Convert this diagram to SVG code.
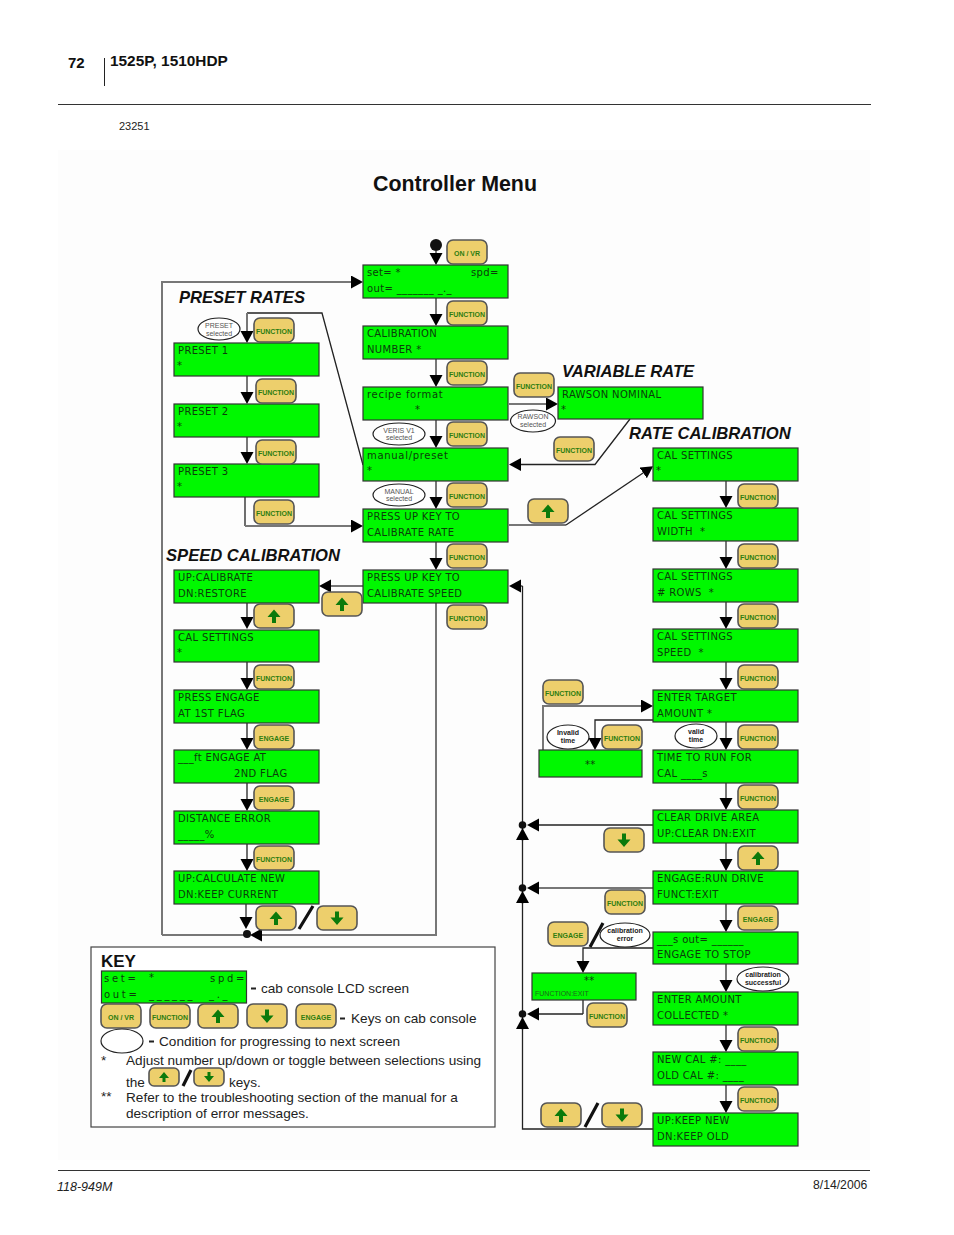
<svg xmlns="http://www.w3.org/2000/svg" width="954" height="1235" viewBox="0 0 954 1235">
<style>
text{font-family:"Liberation Sans",Arial,sans-serif}
.scr{fill:#00f800;stroke:#333;stroke-width:1.2}
.l{font-family:"DejaVu Sans",sans-serif;font-size:10px;letter-spacing:.35px;fill:#0b3d0b}
.lc{letter-spacing:.7px}
.w{letter-spacing:2.7px}
.kr{fill:#edcf6c;stroke:#555;stroke-width:1.6}
.kt{font-size:7px;font-weight:bold;fill:#2e7d10;text-anchor:middle}
.ar{fill:#0b7a0b}
.el{fill:#fff;stroke:#222;stroke-width:1.2}
.et{font-size:7px;fill:#555;text-anchor:middle}
.ed{font-size:7px;font-weight:bold;fill:#222;text-anchor:middle}
.g{fill:none;stroke:#777;stroke-width:2;marker-end:url(#ah)}
.n{fill:none;stroke:#777;stroke-width:2}
.b{fill:none;stroke:#222;stroke-width:1.3;marker-end:url(#ah)}
.bn{fill:none;stroke:#222;stroke-width:1.3}
.h{font-size:16.6px;font-weight:bold;font-style:italic;fill:#111}
.t{font-size:13.6px;fill:#222}
.sl{stroke:#111;stroke-width:3.2;fill:none}
.dot{fill:#111}
</style>
<defs>
<marker id="ah" markerUnits="userSpaceOnUse" markerWidth="14" markerHeight="14" refX="7" refY="6.5" orient="auto"><path d="M0,0L12,6.5L0,13z" fill="#000"/></marker>
<rect id="key" class="kr" width="40" height="24" rx="6"/>
<g id="kup"><use href="#key"/><path class="ar" d="M20,5.5L26.5,13H22V19H18V13H13.5z"/></g>
<g id="kdn"><use href="#key"/><path class="ar" d="M20,19L26.5,11.5H22V5.500H18V11.500H13.500z"/></g>
<g id="smup"><rect class="kr" width="30" height="18" rx="5"/><path class="ar" d="M15,4L20,10H16.500V14H13.500V10H10z"/></g>
<g id="smdn"><rect class="kr" width="30" height="18" rx="5"/><path class="ar" d="M15,14L20,8H16.500V4H13.500V8H10z"/></g>
</defs>
<rect x="58" y="150" width="812" height="1010" fill="#fdfdfd"/>
<g id="page">
<text x="68" y="68" font-size="15" font-weight="bold" fill="#111">72</text>
<path d="M104.500 58V86" stroke="#222" fill="none"/>
<text x="110" y="66" font-size="15.400" font-weight="bold" fill="#111">1525P, 1510HDP</text>
<path d="M58 104.500H871" stroke="#333" fill="none"/>
<text x="119" y="130" font-size="11" fill="#222">23251</text>
<text x="373" y="191" font-size="21.400" font-weight="bold" fill="#111">Controller Menu</text>
<path d="M58 1170.500H870" stroke="#333" fill="none"/>
<text x="57" y="1191" font-size="12.500" font-style="italic" fill="#222">118-949M</text>
<text x="813" y="1189" font-size="12.200" fill="#222">8/14/2006</text>
<text class="h" x="179" y="303">PRESET RATES</text>
<text class="h" x="562" y="377">VARIABLE RATE</text>
<text class="h" x="629" y="439">RATE CALIBRATION</text>
<text class="h" x="166" y="561">SPEED CALIBRATION</text>
</g>
<g id="connectors">
<circle class="dot" cx="436" cy="245" r="6"/>
<path class="g" d="M436 251V260"/>
<path class="g" d="M162 935V282H358"/>
<path class="g" d="M436 298V321"/><path class="g" d="M436 359V382"/><path class="g" d="M436 420V443"/><path class="g" d="M436 481V504"/><path class="g" d="M436 542V565"/>
<path class="bn" d="M363 465L322 313H247"/>
<path class="g" d="M247 313V338"/>
<path class="g" d="M247 376V399"/><path class="g" d="M247 437V459"/>
<path class="bn" d="M245 497V526"/><path class="g" d="M245 526H358"/>
<path class="g" d="M509 404H553"/>
<path class="b" d="M630 419L595 464.500H514"/>
<path class="n" d="M509 525H566"/>
<path class="b" d="M566 525L649 469"/>
<path class="g" d="M363 586H324"/>
<path class="b" d="M247 603V624"/><path class="b" d="M247 662V685"/><path class="b" d="M247 723V745"/><path class="b" d="M247 783V806"/><path class="b" d="M247 844V866"/>
<path class="g" d="M246 904V924"/>
<path class="n" d="M162 935H247"/>
<path class="g" d="M436 603V935H255"/>
<circle class="dot" cx="247" cy="934" r="4"/>
<path class="g" d="M726 481V503"/><path class="g" d="M726 541V564"/><path class="g" d="M726 602V624"/><path class="g" d="M726 662V685"/><path class="g" d="M726 722V745"/><path class="g" d="M726 783V805"/><path class="g" d="M726 843V866"/><path class="g" d="M726 904V927"/><path class="g" d="M726 964V987"/><path class="g" d="M726 1025V1047"/><path class="g" d="M726 1085V1108"/>
<path class="g" d="M543 750V706H648"/>
<path class="b" d="M653 720H595V745"/>
<path class="bn" d="M653 1129H522.500V586"/>
<path class="b" d="M522.500 586H514"/>
<circle class="dot" cx="522.500" cy="825" r="3.800"/><circle class="dot" cx="522.500" cy="888" r="3.800"/><circle class="dot" cx="522.500" cy="1014" r="3.800"/>
<path class="b" d="M522.500 841V833"/><path class="b" d="M522.500 904V896"/><path class="b" d="M522.500 1030V1022"/>
<path class="b" d="M653 825H532"/>
<path class="g" d="M653 888H532"/>
<path class="bn" d="M583 1000V1014"/><path class="b" d="M583 1014H532"/>
<path class="b" d="M653 948H583V968"/>
<path class="sl" d="M299 929L313 906M585 1127L598 1103M590 947L603 923"/>
</g>
<g id="s1" transform="translate(363,265)"><rect class="scr" width="145" height="33"/><text class="l" x="4" y="11">set= *</text><text class="l" x="108" y="11">spd=</text><text class="l" x="4" y="27">out= _______ _._</text></g>
<g id="s2" transform="translate(363,326)"><rect class="scr" width="145" height="33"/><text class="l" x="4" y="11">CALIBRATION</text><text class="l" x="4" y="27">NUMBER *</text></g>
<g id="s3" transform="translate(363,387)"><rect class="scr" width="145" height="33"/><text class="l lc" x="4" y="11">recipe format</text><text class="l" x="52" y="26">*</text></g>
<g id="s4" transform="translate(363,448)"><rect class="scr" width="145" height="33"/><text class="l lc" x="4" y="11">manual/preset</text><text class="l" x="4" y="26">*</text></g>
<g id="s5" transform="translate(363,509)"><rect class="scr" width="145" height="33"/><text class="l" x="4" y="11">PRESS UP KEY TO</text><text class="l" x="4" y="27">CALIBRATE RATE</text></g>
<g id="s6" transform="translate(363,570)"><rect class="scr" width="145" height="33"/><text class="l" x="4" y="11">PRESS UP KEY TO</text><text class="l" x="4" y="27">CALIBRATE SPEED</text></g>
<g id="p1" transform="translate(174,343)"><rect class="scr" width="145" height="33"/><text class="l" x="4" y="11">PRESET 1</text><text class="l" x="3" y="26">*</text></g>
<g id="p2" transform="translate(174,404)"><rect class="scr" width="145" height="33"/><text class="l" x="4" y="11">PRESET 2</text><text class="l" x="3" y="26">*</text></g>
<g id="p3" transform="translate(174,464)"><rect class="scr" width="145" height="33"/><text class="l" x="4" y="11">PRESET 3</text><text class="l" x="3" y="26">*</text></g>
<g id="v1" transform="translate(558,387)"><rect class="scr" width="145" height="32"/><text class="l" x="4" y="11">RAWSON NOMINAL</text><text class="l" x="3" y="26">*</text></g>
<g id="c1" transform="translate(174,570)"><rect class="scr" width="145" height="33"/><text class="l" x="4" y="11">UP:CALIBRATE</text><text class="l" x="4" y="27">DN:RESTORE</text></g>
<g id="c2" transform="translate(174,630)"><rect class="scr" width="145" height="32"/><text class="l" x="4" y="11">CAL SETTINGS</text><text class="l" x="3" y="26">*</text></g>
<g id="c3" transform="translate(174,690)"><rect class="scr" width="145" height="33"/><text class="l" x="4" y="11">PRESS ENGAGE</text><text class="l" x="4" y="27">AT 1ST FLAG</text></g>
<g id="c4" transform="translate(174,750)"><rect class="scr" width="145" height="33"/><text class="l" x="4" y="11">___ft ENGAGE AT</text><text class="l" x="60" y="27">2ND FLAG</text></g>
<g id="c5" transform="translate(174,811)"><rect class="scr" width="145" height="33"/><text class="l" x="4" y="11">DISTANCE ERROR</text><text class="l" x="4" y="27">_____%</text></g>
<g id="c6" transform="translate(174,871)"><rect class="scr" width="145" height="33"/><text class="l" x="4" y="11">UP:CALCULATE NEW</text><text class="l" x="4" y="27">DN:KEEP CURRENT</text></g>
<g id="r1" transform="translate(653,448)"><rect class="scr" width="145" height="33"/><text class="l" x="4" y="11">CAL SETTINGS</text><text class="l" x="3" y="26">*</text></g>
<g id="r2" transform="translate(653,508)"><rect class="scr" width="145" height="33"/><text class="l" x="4" y="11">CAL SETTINGS</text><text class="l" x="4" y="27">WIDTH&#160; *</text></g>
<g id="r3" transform="translate(653,569)"><rect class="scr" width="145" height="33"/><text class="l" x="4" y="11">CAL SETTINGS</text><text class="l" x="4" y="27"># ROWS&#160; *</text></g>
<g id="r4" transform="translate(653,629)"><rect class="scr" width="145" height="33"/><text class="l" x="4" y="11">CAL SETTINGS</text><text class="l" x="4" y="27">SPEED&#160; *</text></g>
<g id="r5" transform="translate(653,690)"><rect class="scr" width="145" height="32"/><text class="l" x="4" y="11">ENTER TARGET</text><text class="l" x="4" y="27">AMOUNT *</text></g>
<g id="r6" transform="translate(653,750)"><rect class="scr" width="145" height="33"/><text class="l" x="4" y="11">TIME TO RUN FOR</text><text class="l" x="4" y="27">CAL ____s</text></g>
<g id="r7" transform="translate(653,810)"><rect class="scr" width="145" height="33"/><text class="l" x="4" y="11">CLEAR DRIVE AREA</text><text class="l" x="4" y="27">UP:CLEAR DN:EXIT</text></g>
<g id="r8" transform="translate(653,871)"><rect class="scr" width="145" height="33"/><text class="l" x="4" y="11">ENGAGE:RUN DRIVE</text><text class="l" x="4" y="27">FUNCT:EXIT</text></g>
<g id="r9" transform="translate(653,932)"><rect class="scr" width="145" height="32"/><text class="l" x="4" y="11">___s out= ______</text><text class="l" x="4" y="26">ENGAGE TO STOP</text></g>
<g id="r10" transform="translate(653,992)"><rect class="scr" width="145" height="33"/><text class="l" x="4" y="11">ENTER AMOUNT</text><text class="l" x="4" y="27">COLLECTED *</text></g>
<g id="r11" transform="translate(653,1052)"><rect class="scr" width="145" height="33"/><text class="l" x="4" y="11">NEW CAL #: ____</text><text class="l" x="4" y="27">OLD CAL #: ____</text></g>
<g id="r12" transform="translate(653,1113)"><rect class="scr" width="145" height="33"/><text class="l" x="4" y="11">UP:KEEP NEW</text><text class="l" x="4" y="27">DN:KEEP OLD</text></g>
<g id="e1" transform="translate(539,750)"><rect class="scr" width="103" height="27"/><text class="l" x="46" y="18">**</text></g>
<g id="e2" transform="translate(532,973)"><rect class="scr" width="104" height="27"/><text class="l" x="52" y="11">**</text><text x="3" y="23" font-size="7" fill="#1c6b1c">FUNCTION:EXIT</text></g>
<g id="k1" transform="translate(447,240)"><use href="#key"/><text class="kt" x="20" y="16">ON / VR</text></g>
<g id="k2" transform="translate(447,301)"><use href="#key"/><text class="kt" x="20" y="16">FUNCTION</text></g>
<g id="k3" transform="translate(447,361)"><use href="#key"/><text class="kt" x="20" y="16">FUNCTION</text></g>
<g id="k4" transform="translate(447,422)"><use href="#key"/><text class="kt" x="20" y="16">FUNCTION</text></g>
<g id="k5" transform="translate(447,483)"><use href="#key"/><text class="kt" x="20" y="16">FUNCTION</text></g>
<g id="k6" transform="translate(447,544)"><use href="#key"/><text class="kt" x="20" y="16">FUNCTION</text></g>
<g id="k7" transform="translate(447,605)"><use href="#key"/><text class="kt" x="20" y="16">FUNCTION</text></g>
<g id="k8" transform="translate(254,318)"><use href="#key"/><text class="kt" x="20" y="16">FUNCTION</text></g>
<g id="k9" transform="translate(256,379)"><use href="#key"/><text class="kt" x="20" y="16">FUNCTION</text></g>
<g id="k10" transform="translate(256,440)"><use href="#key"/><text class="kt" x="20" y="16">FUNCTION</text></g>
<g id="k11" transform="translate(254,500)"><use href="#key"/><text class="kt" x="20" y="16">FUNCTION</text></g>
<g id="k12" transform="translate(514,373)"><use href="#key"/><text class="kt" x="20" y="16">FUNCTION</text></g>
<g id="k13" transform="translate(554,437)"><use href="#key"/><text class="kt" x="20" y="16">FUNCTION</text></g>
<g id="k14" transform="translate(528,499)"><use href="#kup"/></g>
<g id="k15" transform="translate(322,592)"><use href="#kup"/></g>
<g id="k16" transform="translate(254,604)"><use href="#kup"/></g>
<g id="k17" transform="translate(254,665)"><use href="#key"/><text class="kt" x="20" y="16">FUNCTION</text></g>
<g id="k18" transform="translate(254,725)"><use href="#key"/><text class="kt" x="20" y="16">ENGAGE</text></g>
<g id="k19" transform="translate(254,786)"><use href="#key"/><text class="kt" x="20" y="16">ENGAGE</text></g>
<g id="k20" transform="translate(254,846)"><use href="#key"/><text class="kt" x="20" y="16">FUNCTION</text></g>
<g id="k21" transform="translate(256,906)"><use href="#kup"/></g>
<g id="k22" transform="translate(317,906)"><use href="#kdn"/></g>
<g id="k23" transform="translate(738,484)"><use href="#key"/><text class="kt" x="20" y="16">FUNCTION</text></g>
<g id="k24" transform="translate(738,544)"><use href="#key"/><text class="kt" x="20" y="16">FUNCTION</text></g>
<g id="k25" transform="translate(738,604)"><use href="#key"/><text class="kt" x="20" y="16">FUNCTION</text></g>
<g id="k26" transform="translate(738,665)"><use href="#key"/><text class="kt" x="20" y="16">FUNCTION</text></g>
<g id="k27" transform="translate(738,725)"><use href="#key"/><text class="kt" x="20" y="16">FUNCTION</text></g>
<g id="k28" transform="translate(738,785)"><use href="#key"/><text class="kt" x="20" y="16">FUNCTION</text></g>
<g id="k29" transform="translate(738,846)"><use href="#kup"/></g>
<g id="k30" transform="translate(738,906)"><use href="#key"/><text class="kt" x="20" y="16">ENGAGE</text></g>
<g id="k31" transform="translate(738,1027)"><use href="#key"/><text class="kt" x="20" y="16">FUNCTION</text></g>
<g id="k32" transform="translate(738,1087)"><use href="#key"/><text class="kt" x="20" y="16">FUNCTION</text></g>
<g id="k33" transform="translate(543,680)"><use href="#key"/><text class="kt" x="20" y="16">FUNCTION</text></g>
<g id="k34" transform="translate(602,725)"><use href="#key"/><text class="kt" x="20" y="16">FUNCTION</text></g>
<g id="k35" transform="translate(604,828)"><use href="#kdn"/></g>
<g id="k36" transform="translate(605,890)"><use href="#key"/><text class="kt" x="20" y="16">FUNCTION</text></g>
<g id="k37" transform="translate(548,922)"><use href="#key"/><text class="kt" x="20" y="16">ENGAGE</text></g>
<g id="k38" transform="translate(587,1003)"><use href="#key"/><text class="kt" x="20" y="16">FUNCTION</text></g>
<g id="k39" transform="translate(541,1103)"><use href="#kup"/></g>
<g id="k40" transform="translate(602,1103)"><use href="#kdn"/></g>
<g id="o1"><ellipse class="el" cx="219" cy="329" rx="21" ry="11"/><text class="et" x="219" y="328">PRESET</text><text class="et" x="219" y="336">selected</text></g>
<g id="o2"><ellipse class="el" cx="399" cy="434" rx="26" ry="11"/><text class="et" x="399" y="433">VERIS V1</text><text class="et" x="399" y="440">selected</text></g>
<g id="o3"><ellipse class="el" cx="399" cy="495" rx="26" ry="11"/><text class="et" x="399" y="494">MANUAL</text><text class="et" x="399" y="501">selected</text></g>
<g id="o4"><ellipse class="el" cx="533" cy="421" rx="22.500" ry="11"/><text class="et" x="533" y="419">RAWSON</text><text class="et" x="533" y="427">selected</text></g>
<g id="o5"><ellipse class="el" cx="568" cy="737" rx="21" ry="12"/><text class="ed" x="568" y="735">Invalid</text><text class="ed" x="568" y="743">time</text></g>
<g id="o6"><ellipse class="el" cx="696" cy="736" rx="21" ry="12"/><text class="ed" x="696" y="734">valid</text><text class="ed" x="696" y="742">time</text></g>
<g id="o7"><ellipse class="el" cx="625" cy="935" rx="25" ry="12"/><text class="ed" x="625" y="933">calibration</text><text class="ed" x="625" y="941">error</text></g>
<g id="o8"><ellipse class="el" cx="763" cy="979" rx="26" ry="12"/><text class="ed" x="763" y="977">calibration</text><text class="ed" x="763" y="985">successful</text></g>
<g id="key-legend">
<rect x="91" y="947" width="404" height="180" fill="#fff" stroke="#444" stroke-width="1.200"/>
<text x="101" y="967" font-size="17" font-weight="bold" fill="#111">KEY</text>
<rect class="scr" x="101.500" y="971" width="145" height="32"/>
<text class="l w" x="104" y="982">set=</text><text class="l" x="149" y="981">*</text><text class="l w" x="210" y="982">spd=</text>
<text class="l w" x="104" y="998">out=</text><text class="l w" x="149" y="998">______</text><text class="l w" x="209" y="998">_._</text>
<path d="M251 988.500H256M340 1018.500H345M149 1041.500H154" stroke="#222" stroke-width="2" fill="none"/>
<text class="t" x="261" y="993">cab console LCD screen</text>
<g transform="translate(101,1004)"><use href="#key"/><text class="kt" x="20" y="16">ON / VR</text></g>
<g transform="translate(150,1004)"><use href="#key"/><text class="kt" x="20" y="16">FUNCTION</text></g>
<g transform="translate(198,1004)"><use href="#kup"/></g>
<g transform="translate(247,1004)"><use href="#kdn"/></g>
<g transform="translate(296,1004)"><use href="#key"/><text class="kt" x="20" y="16">ENGAGE</text></g>
<text class="t" x="351" y="1023">Keys on cab console</text>
<ellipse class="el" cx="122" cy="1041" rx="21" ry="12"/>
<text class="t" x="159" y="1046">Condition for progressing to next screen</text>
<text class="t" x="101" y="1065">*</text>
<text class="t" x="126" y="1065">Adjust number up/down or toggle between selections using</text>
<text class="t" x="126" y="1087">the</text>
<use href="#smup" x="149" y="1068"/>
<use href="#smdn" x="194" y="1068"/>
<text class="t" x="229" y="1087">keys.</text>
<text class="t" x="101" y="1101">**</text>
<text class="t" x="126" y="1102">Refer to the troubleshooting section of the manual for a</text>
<text class="t" x="126" y="1118">description of error messages.</text>
<path class="sl" d="M183 1086L191 1070"/>
</g>
</svg>
